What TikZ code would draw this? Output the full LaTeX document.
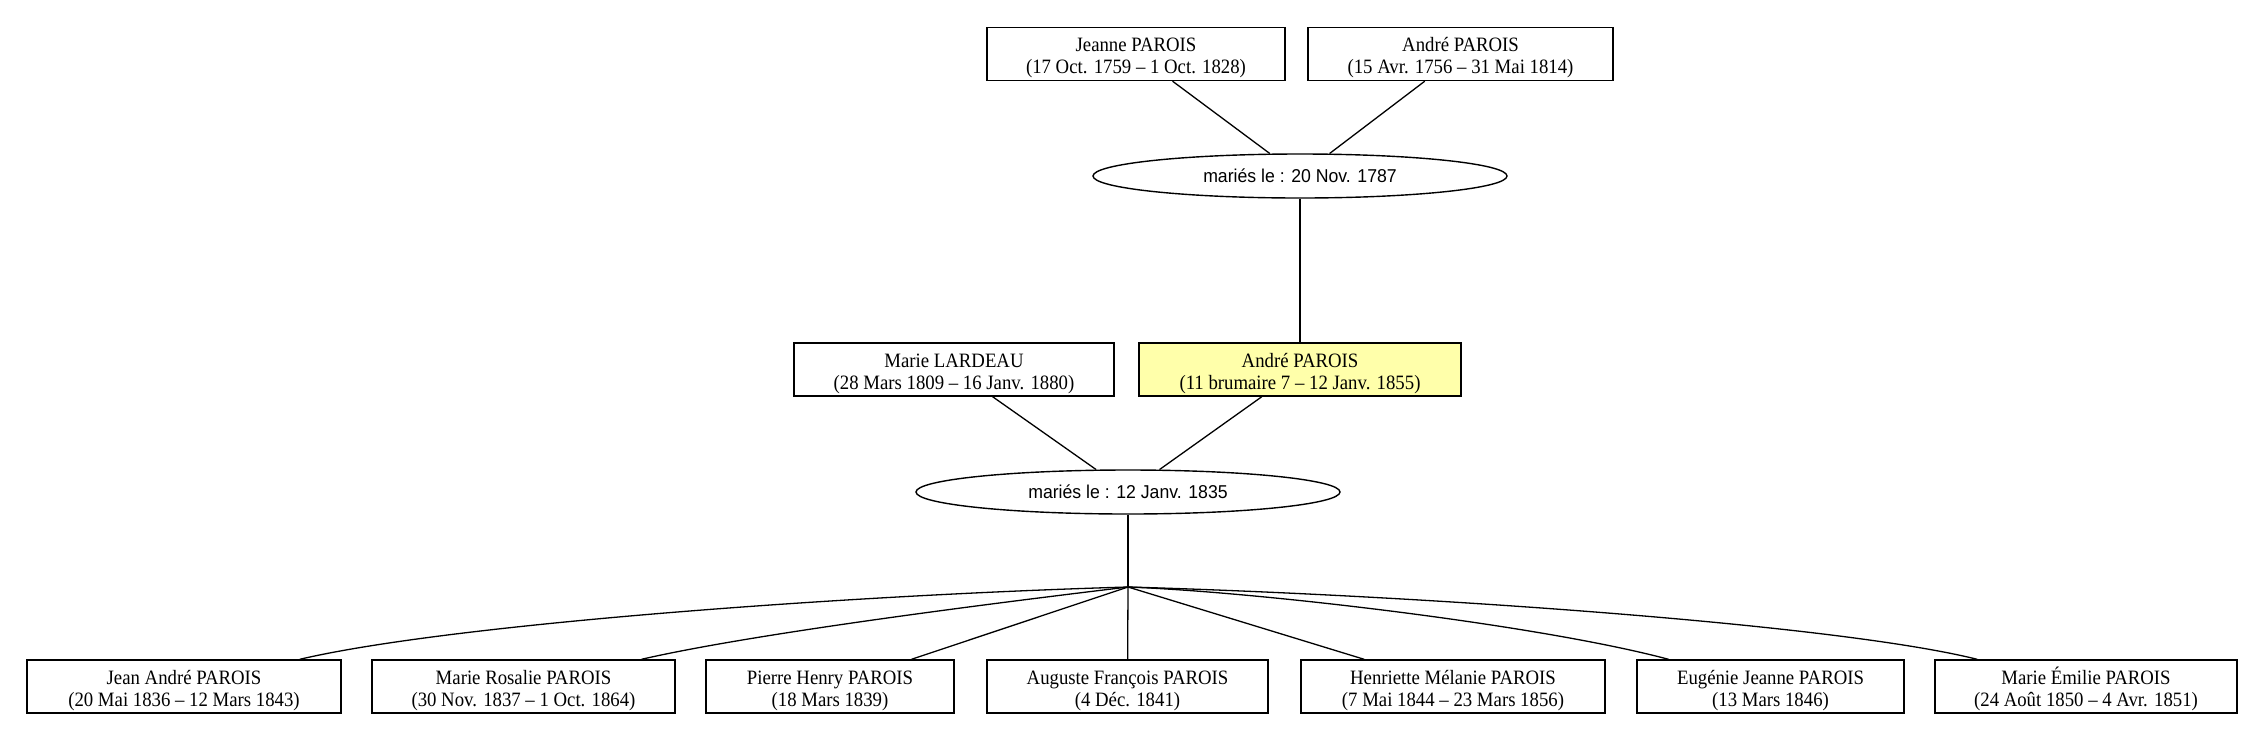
\documentclass[tikz,border=0pt]{standalone}
\usepackage{fontspec}
\setmainfont{Liberation Serif}[FakeStretch=0.92]
\newfontfamily\ellfont{Liberation Sans}[FakeStretch=0.95]
\usetikzlibrary{shapes.geometric}
\definecolor{hilite}{HTML}{FFFFAA}
\newcommand\liftline{\rule{0pt}{10.8pt}}
\begin{document}
\begin{tikzpicture}[x=0.5pt,y=-0.5pt,
  person/.style={draw, line width=0.7pt, rectangle, inner sep=0pt, minimum height=26.5pt, align=center, font=\fontsize{10.2}{11}\selectfont},
  union/.style={draw, line width=0.7pt, ellipse, inner sep=0pt, minimum height=22pt, font=\ellfont\fontsize{9.3}{11}\selectfont},
  link/.style={line width=0.65pt}]
\useasboundingbox (0,0) rectangle (2264,740);
% generation 1
\node[person, minimum width=149pt] (jeanne) at (1136,54) {\liftline Jeanne PAROIS\\(17 Oct. 1759 – 1 Oct. 1828)};
\node[person, minimum width=152.5pt] (andre1) at (1460.5,54) {\liftline André PAROIS\\(15 Avr. 1756 – 31 Mai 1814)};
\node[union, minimum width=207pt] (m1) at (1300,176) {mariés le : 20 Nov. 1787};
% generation 2
\node[person, minimum width=160pt] (marie) at (954,369.5) {\liftline Marie LARDEAU\\(28 Mars 1809 – 16 Janv. 1880)};
\node[person, fill=hilite, minimum width=161pt] (andre2) at (1300,369.5) {\liftline André PAROIS\\(11 brumaire 7 – 12 Janv. 1855)};
\node[union, minimum width=212pt] (m2) at (1128,492) {mariés le : 12 Janv. 1835};
\coordinate (j) at (1128,587);
% children
\node[person, minimum width=157pt] (c1) at (184,686.5) {\liftline Jean André PAROIS\\(20 Mai 1836 – 12 Mars 1843)};
\node[person, minimum width=151.5pt] (c2) at (523.5,686.5) {\liftline Marie Rosalie PAROIS\\(30 Nov. 1837 – 1 Oct. 1864)};
\node[person, minimum width=124pt] (c3) at (830,686.5) {\liftline Pierre Henry PAROIS\\(18 Mars 1839)};
\node[person, minimum width=140.5pt] (c4) at (1127.5,686.5) {\liftline Auguste François PAROIS\\(4 Déc. 1841)};
\node[person, minimum width=152pt] (c5) at (1453,686.5) {\liftline Henriette Mélanie PAROIS\\(7 Mai 1844 – 23 Mars 1856)};
\node[person, minimum width=133.5pt] (c6) at (1770.5,686.5) {\liftline Eugénie Jeanne PAROIS\\(13 Mars 1846)};
\node[person, minimum width=151pt] (c7) at (2086,686.5) {\liftline Marie Émilie PAROIS\\(24 Août 1850 – 4 Avr. 1851)};
% connectors
\draw[link] (jeanne) -- (m1);
\draw[link] (andre1) -- (m1);
\draw[link] (m1) -- (andre2);
\draw[link] (marie) -- (m2);
\draw[link] (andre2) -- (m2);
\draw[link] (m2) -- (j);
\draw[link] (j) .. controls (850,595) and (450,624) .. (c1);
\draw[link] (j) .. controls (1020,600) and (760,632) .. (c2);
\draw[link] (j) -- (c3);
\draw[link] (j) -- (c4);
\draw[link] (j) -- (c5);
\draw[link] (j) .. controls (1260,592) and (1540,625) .. (c6);
\draw[link] (j) .. controls (1413,595) and (1836,624) .. (c7);
\end{tikzpicture}
\end{document}
